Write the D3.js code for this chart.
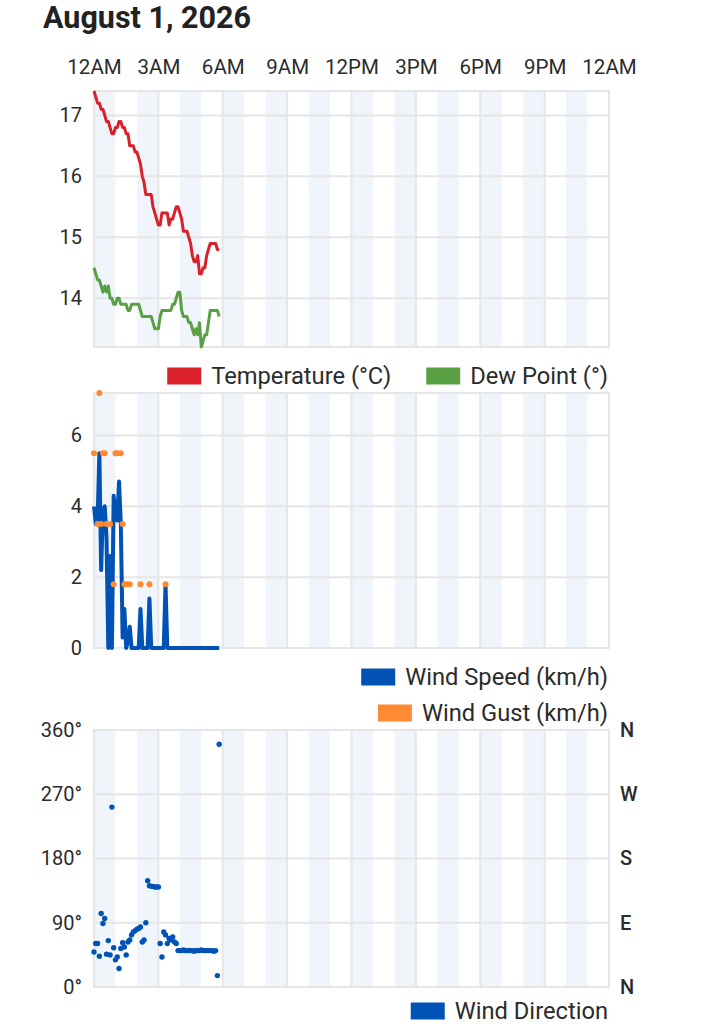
<!DOCTYPE html>
<html>
<head>
<meta charset="utf-8">
<script src="https://cdn.jsdelivr.net/npm/d3@7"></script>
<style>
  body { margin: 0; background: #fff; }
  text { font-family: Roboto, "Noto Sans", sans-serif; }
</style>
</head>
<body>
<script>
const width = 703;
const height = 1024;
const plotLeft = 94;
const plotRight = 609;
const panels = {
  temp: { top: 91, bottom: 347 },
  wind: { top: 393, bottom: 648 },
  dir: { top: 730, bottom: 987 }
};
const colors = {
  temp: "#d9202b",
  dew: "#59a045",
  speed: "#0052b4",
  gust: "#ff8a33"
};
const gridColor = "#e6e6e6";
const bandColor = "#eff5fb";
const textColor = "#2b2b2b";

// data
const title = "August 1, 2026";
const hourTicks = [0, 3, 6, 9, 12, 15, 18, 21, 24];
const hourLabels = ["12AM", "3AM", "6AM", "9AM", "12PM", "3PM", "6PM", "9PM", "12AM"];
const minutes = [
  0, 5, 10, 15, 20, 25, 30, 35, 40, 45, 50, 55,
  60, 65, 70, 75, 80, 85, 90, 95, 100, 105, 110, 115,
  120, 125, 130, 135, 140, 145, 150, 155, 160, 165, 170, 175,
  180, 185, 190, 195, 200, 205, 210, 215, 220, 225, 230, 235,
  240, 245, 250, 255, 260, 265, 270, 275, 280, 285, 290, 295,
  300, 305, 310, 315, 320, 325, 330, 335, 340, 345, 350
];
const temperature = [
  17.4, 17.3, 17.2, 17.2, 17.1, 17.1, 17.0, 16.9, 16.9, 16.8, 16.7, 16.7,
  16.8, 16.8, 16.9, 16.9, 16.8, 16.8, 16.7, 16.7, 16.5, 16.5, 16.5, 16.4,
  16.4, 16.3, 16.2, 16.0, 15.9, 15.7, 15.7, 15.7, 15.7, 15.5, 15.4, 15.3,
  15.2, 15.2, 15.4, 15.4, 15.4, 15.4, 15.2, 15.3, 15.3, 15.4, 15.5, 15.5,
  15.4, 15.3, 15.1, 15.1, 15.1, 15.0, 14.9, 14.7, 14.6, 14.6, 14.7, 14.4,
  14.4, 14.5, 14.5, 14.7, 14.8, 14.9, 14.9, 14.9, 14.9, 14.8, 14.8
];
const dewPoint = [
  14.5, 14.4, 14.3, 14.3, 14.2, 14.1, 14.2, 14.1, 14.2, 14.0, 14.0, 13.9,
  13.9, 14.0, 14.0, 13.9, 13.9, 13.9, 13.9, 13.8, 13.8, 13.9, 13.9, 13.9,
  13.9, 13.9, 13.8, 13.7, 13.7, 13.7, 13.7, 13.7, 13.7, 13.6, 13.5, 13.5,
  13.5, 13.7, 13.8, 13.8, 13.8, 13.8, 13.8, 13.8, 13.9, 13.9, 14.0, 14.1,
  14.1, 13.8, 13.7, 13.7, 13.7, 13.6, 13.6, 13.5, 13.4, 13.5, 13.4, 13.6,
  13.2, 13.3, 13.4, 13.4, 13.6, 13.8, 13.8, 13.8, 13.8, 13.8, 13.7
];
const windSpeed = [
  4.0, 3.5, 3.6, 5.5, 2.2, 3.9, 4.0, 3.1, 0, 2.6, 0, 4.3,
  3.7, 3.6, 4.7, 3.5, 0.3, 1.1, 0, 0.2, 0.6, 0, 0, 0,
  0, 0, 1.1, 0, 0, 0, 0, 1.4, 0, 0, 0, 0,
  0, 0, 0, 0, 1.8, 0, 0, 0, 0, 0, 0, 0,
  0, 0, 0, 0, 0, 0, 0, 0, 0, 0, 0, 0,
  0, 0, 0, 0, 0, 0, 0, 0, 0, 0, 0
];
const windGust = [
  5.5, null, 3.5, 7.2, 3.5, 5.5, 5.5, 3.5, null, 3.5, null, 1.8,
  5.5, 5.5, null, 5.5, 3.5, 1.8, 1.8, null, 1.8, null, null, null,
  null, null, 1.8, null, null, null, null, 1.8, null, null, null, null,
  null, null, null, null, 1.8, null, null, null, null, null, null, null,
  null, null, null, null, null, null, null, null, null, null, null, null,
  null, null, null, null, null, null, null, null, null, null, null
];
const windDirection = [
  49, 61, 61, 43, 103, 89, 96, 46, 65, 45, 252, 55,
  38, 42, 26, 54, 62, 56, 45, 63, 66, 73, 77, 79,
  81, 82, 84, 63, 66, 90, 149, 142, 141, 141, 140, 140,
  140, 61, 42, 77, 73, 61, 68, 66, 70, 63, 61, 51,
  51, 51, 52, 51, 51, 51, 51, 51, 50, 51, 51, 51,
  52, 51, 51, 51, 51, 51, 51, 50, 51, 16, 340
];
const tempTicks = [14, 15, 16, 17];
const windTicks = [0, 2, 4, 6];
const dirTicks = [0, 90, 180, 270, 360];
const dirLabels = ["0°", "90°", "180°", "270°", "360°"];
const compassLabels = ["N", "E", "S", "W", "N"];

const svg = d3.select(document.body).append("svg")
  .attr("width", width)
  .attr("height", height);

const x = d3.scaleLinear()
  .domain([0, 24 * 60])
  .range([plotLeft, plotRight]);

function addTitle() {
  svg.append("text")
    .text(title)
    .attr("x", 43)
    .attr("y", 28)
    .attr("style", "font-size: 30.5px; font-weight: 700; fill: #222;");
}

function addTimeAxis() {
  const axis = d3.axisTop(x)
    .tickValues(hourTicks.map((h) => h * 60))
    .tickFormat((d, i) => hourLabels[i])
    .tickSize(0)
    .tickPadding(6);

  const g = svg.append("g")
    .attr("transform", "translate(0,80)")
    .call(axis);

  g.select(".domain").remove();
  g.selectAll("text")
    .attr("style", `font-size: 20.5px; fill: ${textColor};`);
}

function addPanelBackground(panel, y, ticks) {
  const g = svg.append("g");
  const bandHours = d3.range(0, 24, 2);

  g.selectAll(".band")
    .data(bandHours)
    .enter().append("rect")
    .attr("x", (h) => x(h * 60))
    .attr("y", panel.top)
    .attr("width", (h) => x((h + 1) * 60) - x(h * 60))
    .attr("height", panel.bottom - panel.top)
    .attr("fill", bandColor);

  g.selectAll(".vgrid")
    .data(hourTicks)
    .enter().append("line")
    .attr("x1", (h) => x(h * 60))
    .attr("x2", (h) => x(h * 60))
    .attr("y1", panel.top)
    .attr("y2", panel.bottom)
    .attr("stroke", gridColor)
    .attr("stroke-width", 2);

  g.selectAll(".hgrid")
    .data(ticks)
    .enter().append("line")
    .attr("x1", plotLeft)
    .attr("x2", plotRight)
    .attr("y1", (d) => y(d))
    .attr("y2", (d) => y(d))
    .attr("stroke", gridColor)
    .attr("stroke-width", 2);

  g.append("rect")
    .attr("x", plotLeft)
    .attr("y", panel.top)
    .attr("width", plotRight - plotLeft)
    .attr("height", panel.bottom - panel.top)
    .attr("fill", "none")
    .attr("stroke", gridColor)
    .attr("stroke-width", 2);
}

function addYAxis(y, ticks, format) {
  const axis = d3.axisLeft(y)
    .tickValues(ticks)
    .tickFormat(format)
    .tickSize(0)
    .tickPadding(12);

  const g = svg.append("g")
    .attr("transform", `translate(${plotLeft},0)`)
    .call(axis);

  g.select(".domain").remove();
  g.selectAll("text")
    .attr("style", `font-size: 20px; fill: ${textColor};`);
}

// legend rows are right aligned at the plot edge
function addLegendRow(items, cy) {
  let right = plotRight - 1;

  items.slice().reverse().forEach((item) => {
    const label = svg.append("text")
      .text(item.label)
      .attr("x", right)
      .attr("y", cy)
      .attr("dy", "0.35em")
      .attr("text-anchor", "end")
      .attr("style", `font-size: 23.7px; fill: ${textColor};`);

    const textWidth = label.node().getComputedTextLength();
    const swatchX = right - textWidth - 10 - 34;

    svg.append("rect")
      .attr("x", swatchX)
      .attr("y", cy - 8.5)
      .attr("width", 34)
      .attr("height", 17)
      .attr("fill", item.color);

    right = swatchX - 35;
  });
}

function drawTemperature() {
  const panel = panels.temp;
  const y = d3.scaleLinear()
    .domain(d3.extent(temperature.concat(dewPoint)))
    .range([panel.bottom, panel.top]);

  addPanelBackground(panel, y, tempTicks);
  addYAxis(y, tempTicks, (d) => d);

  const line = (values) => d3.line()
    .x((d, i) => x(minutes[i]))
    .y((d) => y(d))(values);

  svg.append("path")
    .attr("d", line(dewPoint))
    .attr("fill", "none")
    .attr("stroke", colors.dew)
    .attr("stroke-width", 3)
    .attr("stroke-linejoin", "round");

  svg.append("path")
    .attr("d", line(temperature))
    .attr("fill", "none")
    .attr("stroke", colors.temp)
    .attr("stroke-width", 3)
    .attr("stroke-linejoin", "round");

  addLegendRow([
    { label: "Temperature (°C)", color: colors.temp },
    { label: "Dew Point (°)", color: colors.dew }
  ], 376);
}

function drawWind() {
  const panel = panels.wind;
  const y = d3.scaleLinear()
    .domain([0, d3.max(windGust)])
    .range([panel.bottom, panel.top]);

  addPanelBackground(panel, y, windTicks);
  addYAxis(y, windTicks, (d) => d);

  svg.append("path")
    .attr("d", d3.line()
      .x((d, i) => x(minutes[i]))
      .y((d) => y(d))(windSpeed))
    .attr("fill", "none")
    .attr("stroke", colors.speed)
    .attr("stroke-width", 4)
    .attr("stroke-linejoin", "round");

  const gusts = windGust
    .map((value, i) => ({ minute: minutes[i], value }))
    .filter(({ value }) => value !== null);

  svg.selectAll(".gust")
    .data(gusts)
    .enter().append("circle")
    .attr("cx", ({ minute }) => x(minute))
    .attr("cy", ({ value }) => y(value))
    .attr("r", 3)
    .attr("fill", colors.gust);

  addLegendRow([{ label: "Wind Speed (km/h)", color: colors.speed }], 677);
  addLegendRow([{ label: "Wind Gust (km/h)", color: colors.gust }], 713);
}

function drawDirection() {
  const panel = panels.dir;
  const y = d3.scaleLinear()
    .domain([0, 360])
    .range([panel.bottom, panel.top]);

  addPanelBackground(panel, y, dirTicks);
  addYAxis(y, dirTicks, (d, i) => dirLabels[i]);

  const right = svg.append("g")
    .attr("transform", `translate(${plotRight},0)`)
    .call(d3.axisRight(y)
      .tickValues(dirTicks)
      .tickFormat((d, i) => compassLabels[i])
      .tickSize(0)
      .tickPadding(11));

  right.select(".domain").remove();
  right.selectAll("text")
    .attr("style", `font-size: 20px; font-weight: 500; fill: ${textColor};`);

  svg.selectAll(".dir")
    .data(windDirection)
    .enter().append("circle")
    .attr("cx", (d, i) => x(minutes[i]))
    .attr("cy", (d) => y(d))
    .attr("r", 2.7)
    .attr("fill", colors.speed);

  addLegendRow([{ label: "Wind Direction", color: colors.speed }], 1011);
}

addTitle();
addTimeAxis();
drawTemperature();
drawWind();
drawDirection();
</script>
</body>
</html>
